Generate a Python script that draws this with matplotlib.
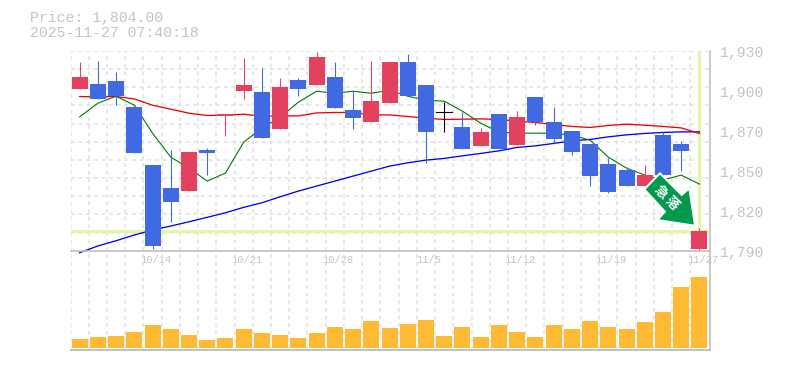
import numpy as np
import matplotlib
matplotlib.use("Agg")
import matplotlib.pyplot as plt
from matplotlib.patches import Polygon
from matplotlib.transforms import Affine2D

W, H = 785, 370
dates = ["10/14", "10/21", "10/28", "11/5", "11/12", "11/19", "11/27"]
date_idx = [4, 9, 14, 19, 24, 29, 34]
price_labels = ["1,930", "1,900", "1,870", "1,850", "1,820", "1,790"]

opens = [1903.2, 1906.7, 1908.8, 1890.6, 1850.0, 1833.9, 1831.8, 1860.5, 1884.3, 1901.8, 1901.1, 1875.2,
         1909.5, 1906.0, 1911.6, 1888.5, 1880.1, 1893.4, 1922.1, 1906.0, 1886.9, 1876.6, 1863.3, 1885.7,
         1864.0, 1897.6, 1880.1, 1873.8, 1864.7, 1850.7, 1846.5, 1835.3, 1871.0, 1864.7, 1791.2]
closes = [1911.6, 1896.2, 1898.3, 1858.4, 1793.3, 1824.1, 1859.1, 1858.4, 1885.7, 1906.0, 1868.9, 1904.6,
          1903.2, 1925.6, 1889.9, 1882.9, 1894.8, 1922.1, 1898.3, 1873.1, 1886.9, 1861.2, 1873.1, 1861.2,
          1883.6, 1880.1, 1868.2, 1859.1, 1842.3, 1831.1, 1835.3, 1843.0, 1843.0, 1859.8, 1804.0]
highs = [1922.1, 1922.8, 1915.1, 1892.0, 1850.0, 1860.5, 1859.1, 1861.9, 1885.7, 1924.9, 1917.9, 1910.9,
         1910.9, 1929.1, 1922.1, 1901.8, 1922.8, 1922.1, 1927.7, 1906.0, 1894.1, 1887.1, 1875.9, 1885.7,
         1887.8, 1897.6, 1890.6, 1873.8, 1864.7, 1854.9, 1848.6, 1850.0, 1873.1, 1866.8, 1805.9]
lows = [1903.2, 1896.2, 1892.0, 1858.4, 1791.4, 1810.1, 1831.8, 1843.0, 1870.3, 1896.2, 1868.9, 1875.2,
        1898.3, 1906.0, 1889.9, 1875.2, 1880.1, 1893.4, 1898.3, 1851.4, 1873.1, 1861.2, 1863.3, 1861.2,
        1864.0, 1878.0, 1865.4, 1857.0, 1835.3, 1830.4, 1835.3, 1835.3, 1843.0, 1845.8, 1789.8]
ma_short = [1883.8, 1893.4, 1898.3, 1892.0, 1872.4, 1855.6, 1847.9, 1838.8, 1844.4, 1866.1, 1875.9, 1883.6,
            1894.1, 1901.8, 1900.4, 1901.8, 1900.4, 1902.5, 1898.3, 1895.5, 1894.8, 1887.8, 1879.4, 1873.1,
            1872.4, 1872.4, 1872.4, 1871.0, 1867.5, 1855.6, 1847.9, 1843.0, 1839.5, 1843.0, 1836.7]
ma_mid = [1898.1, 1897.8, 1898.1, 1896.4, 1892.0, 1889.2, 1886.4, 1884.8, 1885.0, 1885.7, 1884.3, 1884.5,
          1884.5, 1886.6, 1886.9, 1886.9, 1885.2, 1885.2, 1884.1, 1882.9, 1882.0, 1882.2, 1882.4, 1882.0,
          1880.8, 1879.9, 1878.5, 1877.1, 1876.4, 1877.8, 1878.7, 1878.0, 1877.1, 1876.1, 1872.2]
ma_long = [1788.6, 1793.3, 1797.0, 1801.0, 1804.5, 1807.3, 1810.3, 1813.4, 1816.6, 1820.4, 1823.6, 1827.8,
           1831.8, 1835.3, 1838.8, 1842.3, 1845.8, 1849.3, 1851.6, 1853.5, 1854.7, 1856.5, 1858.2, 1860.0,
           1862.4, 1863.5, 1865.2, 1867.0, 1868.0, 1869.8, 1871.2, 1872.2, 1872.9, 1873.3, 1873.3]
volumes = [9, 11, 12, 16, 23, 19, 13, 8, 10, 19, 15, 13, 10, 15, 21, 19, 27, 20, 24, 28, 12, 21, 11, 23,
           16, 11, 23, 19, 27, 21, 19, 26, 36, 61, 71]
last_price = 1804.0

BLUE, RED, BLACK = "#4169E1", "#E2425F", "#000000"
ORANGE, PALE, GRID, AXIS, TEXT = "#FFB933", "#E4F5A9", "#E0E0E0", "#C0C0C0", "#C4C4C4"
MONO = "Liberation Mono"
PX = 0.72

fig = plt.figure(figsize=(W / 100, H / 100), dpi=100, facecolor="white")
L, R, T, MID, B = 70.5, 710.0, 51.0, 250.7, 350.0


def axes_px(x0, x1, y0, y1):
    a = fig.add_axes([x0 / W, 1 - y1 / H, (x1 - x0) / W, (y1 - y0) / H])
    a.patch.set_alpha(0)
    for s in a.spines.values():
        s.set_visible(False)
    a.set_xticks([])
    a.set_yticks([])
    return a


n = len(closes)
x = np.arange(n)
xlim = (-0.5, -0.5 + (R - L) / 18.23)

ax = axes_px(L, R, T, MID)
ax.set_xlim(*xlim)
ax.set_ylim(1790, 1930)
vol = axes_px(L, R, MID, B)
vol.set_xlim(*xlim)
vol.set_ylim(-2, 97.3)

dash = (0, (2.5, 2.5))
for a in (ax, vol):
    for g in x - 0.5:
        a.axvline(g, color=GRID, lw=1.1, ls=dash, zorder=1)
for g in np.linspace(1790, 1930, 12)[1:]:
    ax.axhline(g, color=GRID, lw=1.1, ls=dash, zorder=1)

# last-price guides
ax.axhline(last_price, color=PALE, lw=2.2, zorder=2)
ax.plot([x[-1], x[-1]], [last_price, 1930], color=PALE, lw=2.2, zorder=2, solid_capstyle="butt")

ax.plot(x, ma_long, color="#0000EE", lw=1.3 * PX, zorder=3, clip_on=False)
ax.plot(x, ma_mid, color="#EE0000", lw=1.3 * PX, zorder=3)
ax.plot(x, ma_short, color="#007700", lw=1.1 * PX, zorder=3)

cols = [RED if c > o else (BLUE if c < o else BLACK) for o, c in zip(opens, closes)]
ax.vlines(x, lows, highs, colors=cols, lw=1.1 * PX, zorder=4, clip_on=False)
for i in x:
    if abs(opens[i] - closes[i]) < 0.01:
        ax.plot([i - 0.44, i + 0.44], [opens[i], opens[i]], color=BLACK, lw=1.1 * PX, zorder=5)
ax.bar(x, np.array(closes) - np.array(opens), bottom=opens, width=0.878, color=cols, lw=0, zorder=5)

vol.bar(x, volumes, width=0.878, color=ORANGE, lw=0, zorder=3)

# frame
ax.axhline(1790, color=AXIS, lw=1.2, zorder=6, clip_on=False)
vol.axhline(-2, color=AXIS, lw=1.4, zorder=6, clip_on=False)
vol.axvline(xlim[1], color=AXIS, lw=1.2, zorder=6, clip_on=False)
ax.axvline(xlim[1], color=AXIS, lw=1.2, zorder=6, clip_on=False)

# tick labels
for t, s in zip(date_idx, dates):
    ax.annotate(s, (t, 1790), xytext=(2.2, -3.2), textcoords="offset points", ha="center", va="top",
                family=MONO, fontsize=7.5, color=TEXT, zorder=7, annotation_clip=False)
for i, s in enumerate(price_labels):
    fig.text(720 / W, 1 - (53.5 + 40 * i) / H, s, ha="left", va="center", family=MONO, fontsize=10.74, color=TEXT)
fig.text(30 / W, 1 - 18 / H, "Price: 1,804.00", ha="left", va="center", family=MONO, fontsize=10.74, color=TEXT)
fig.text(30 / W, 1 - 33 / H, "2025-11-27 07:40:18", ha="left", va="center", family=MONO, fontsize=10.74, color=TEXT)

# signal arrow badge (figure pixels, y down)
px = Affine2D().scale(1, -1).translate(0, H)
pts = [(644.3, 189.3), (660, 173.3), (681.7, 195), (689.3, 188.3), (695, 225.7), (657.3, 220), (665, 211.7)]
fig.add_artist(Polygon(pts, closed=True, transform=px, fc="#00994D", ec="white", lw=1.4, zorder=10, joinstyle="miter"))
for s, gx, gy in (("\u6025", 661, 192.5), ("\u843d", 672, 203)):
    fig.text(gx / W, 1 - gy / H, s, rotation=-45, ha="center", va="center", color="white", fontweight="bold",
             family=["Noto Sans CJK JP", "DejaVu Sans"], fontsize=9.5, zorder=11)

fig.savefig("out.png", dpi=100)
